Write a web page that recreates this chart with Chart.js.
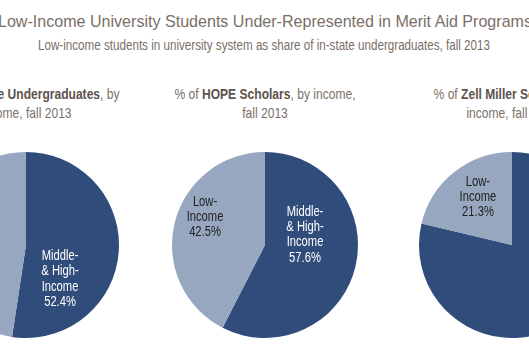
<!DOCTYPE html>
<html>
<head>
<meta charset="utf-8">
<script src="https://cdn.jsdelivr.net/npm/chart.js@4"></script>
<style>
  html, body { margin: 0; padding: 0; background: #fff; }
  body { width: 529px; height: 353px; overflow: hidden; position: relative;
         font-family: "Liberation Sans", Arial, sans-serif; }
  .txt { position: absolute; white-space: nowrap; text-align: center; color: #7b6f67;
         transform-origin: center top; }
  .title { top: 12px; font-size: 17px; line-height: 20px; }
  .sub { top: 37px; font-size: 14px; line-height: 16px; }
  .ptitle { top: 84px; font-size: 15px; line-height: 19px; }
  .ptitle b { color: #5e534c; }
  canvas { position: absolute; top: 145px; }
</style>
</head>
<body>
<div class="txt title" id="title">Low-Income University Students Under-Represented in Merit Aid Programs</div>
<div class="txt sub" id="sub">Low-income students in university system as share of in-state undergraduates, fall 2013</div>

<div class="txt ptitle" id="t0">% of <b>In-State Undergraduates</b>, by<br>income, fall 2013</div>
<div class="txt ptitle" id="t1">% of <b>HOPE Scholars</b>, by income,<br>fall 2013</div>
<div class="txt ptitle" id="t2">% of <b>Zell Miller Scholars</b>, by<br>income, fall 2013</div>

<canvas id="c0" width="200" height="200"></canvas>
<canvas id="c1" width="200" height="200"></canvas>
<canvas id="c2" width="200" height="200"></canvas>

<script>
// data
const categories = ["Middle- & High-Income", "Low-Income"];
const undergrads = [52.4, 47.6];
const hope = [57.6, 42.5];
const zellMiller = [78.7, 21.3];

const darkBlue = "#2f4c7a";
const lightBlue = "#97a7bf";

// pie centers on the page (x), all at same y
const centersX = [26, 265, 512];
const pageCenter = 265;

// label text lines, and where they sit (fraction of radius from center)
const labelLines = [["Middle-", "& High-", "Income"], ["Low-", "Income"]];
const labelPos = [
  [[0.366, 0.366], [-0.62, -0.3]],
  [[0.43, -0.11], [-0.645, -0.3]],
  [[0.45, 0.3], [-0.366, -0.516]]
];

// squeeze text to look like the narrow font of the original
function place(el, cx, k) {
  el.style.left = cx + "px";
  el.style.transform = "translateX(-50%) scaleX(" + k + ")";
}
function fitScale(el, target) {
  return target / el.getBoundingClientRect().width;
}

const titleEl = document.getElementById("title");
const subEl = document.getElementById("sub");
place(titleEl, pageCenter, fitScale(titleEl, 534));
place(subEl, pageCenter - 1, fitScale(subEl, 452));
const pk = fitScale(document.getElementById("t1"), 181);
centersX.forEach((cx, i) => place(document.getElementById("t" + i), cx, pk));

const pieLabels = {
  id: "pieLabels",
  afterDatasetsDraw(chart) {
    const ctx = chart.ctx;
    const meta = chart.getDatasetMeta(0);
    const vals = chart.data.datasets[0].data;
    const idx = chart.options.plugins.pieLabels.index;
    ctx.save();
    ctx.font = '14px "Liberation Sans", Arial, sans-serif';
    ctx.textAlign = "center";
    ctx.textBaseline = "middle";
    meta.data.forEach((arc, i) => {
      const r = arc.outerRadius;
      const px = arc.x + labelPos[idx][i][0] * r;
      const py = arc.y + labelPos[idx][i][1] * r;
      const lines = labelLines[i].concat([vals[i].toFixed(1) + "%"]);
      const lh = 15.3;
      ctx.fillStyle = i === 0 ? "#ffffff" : "#222222";
      lines.forEach((t, k) => {
        ctx.save();
        ctx.translate(px, py + (k - (lines.length - 1) / 2) * lh);
        ctx.scale(0.8, 1);
        ctx.fillText(t, 0, 0);
        ctx.restore();
      });
    });
    ctx.restore();
  }
};

function makePie(id, values, idx) {
  const el = document.getElementById(id);
  el.style.left = (centersX[idx] - 100) + "px";
  new Chart(el, {
    type: "pie",
    data: {
      labels: categories,
      datasets: [{
        data: values,
        backgroundColor: [darkBlue, lightBlue],
        borderWidth: 0
      }]
    },
    options: {
      responsive: false,
      animation: false,
      layout: { padding: 7 },
      plugins: {
        legend: { display: false },
        tooltip: { enabled: false },
        pieLabels: { index: idx }
      }
    },
    plugins: [pieLabels]
  });
}

makePie("c0", undergrads, 0);
makePie("c1", hope, 1);
makePie("c2", zellMiller, 2);
</script>
</body>
</html>
